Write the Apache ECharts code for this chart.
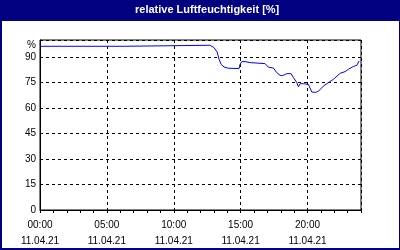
<!DOCTYPE html>
<html>
<head>
<meta charset="utf-8">
<script src="https://cdn.jsdelivr.net/npm/echarts@6/dist/echarts.min.js"></script>
<style>
  html, body { margin: 0; padding: 0; background: #fff; }
  #chart { width: 400px; height: 250px; }
</style>
</head>
<body>
<div id="chart"></div>
<script>
// Stunden seit 00:00 und relative Feuchte in %
const hours = [0, 6.2, 6.25, 12.7, 13.0, 13.24, 13.39, 13.54, 13.76, 14.08, 14.88, 14.96, 15.09, 15.33, 15.71,
  16.83, 17.08, 17.45, 17.7, 17.95, 18.12, 18.45, 18.77, 18.95, 19.2, 19.32, 19.45, 19.69, 20.07, 20.32,
  20.62, 20.82, 21.19, 21.56, 21.94, 22.44, 22.81, 23.06, 23.43, 23.69, 23.86];
const humidity = [96.3, 96.3, 96.9, 96.9, 95.6, 93.0, 88.7, 85.7, 84.1, 83.4, 83.2, 85.7, 87.3, 87.3, 86.7,
  86.1, 84.0, 83.5, 80.8, 79.2, 79.0, 80.2, 80.2, 77.9, 74.9, 72.5, 74.3, 74.3, 73.9, 69.4,
  69.2, 69.9, 72.9, 74.9, 76.9, 80.4, 81.4, 82.8, 84.4, 85.1, 87.7];
const dateLabel = "11.04.21";
const yTicks = [0, 15, 30, 45, 60, 75, 90];

const font = "Liberation Sans";
const navy = "#000080";

const chart = echarts.init(document.getElementById("chart"));
const pad = (n) => (n < 10 ? "0" + n : "" + n);

chart.setOption({
  animation: false,
  backgroundColor: "#fff",
  textStyle: { fontFamily: font },
  graphic: [
    // Titelleiste und Rahmen
    { type: "rect", left: 0, top: 0, shape: { width: 400, height: 21 }, style: { fill: navy } },
    { type: "rect", left: 0, top: 0, shape: { width: 2, height: 250 }, style: { fill: navy } },
    { type: "rect", left: 399, top: 0, shape: { width: 1, height: 250 }, style: { fill: navy } },
    { type: "rect", left: 0, top: 248, shape: { width: 400, height: 2 }, style: { fill: navy } },
    { type: "text", left: 135, top: 4,
      style: { text: "relative Luftfeuchtigkeit [%]", fill: "#fff", font: "bold 11px " + font } },
    { type: "text", right: 364, top: 40,
      style: { text: "%", fill: "#000", font: "10px " + font } }
  ],
  grid: { left: 40, top: 40, right: 39, bottom: 40, show: true, borderColor: "#000", borderWidth: 1 },
  xAxis: [
    {
      type: "value", position: "bottom", min: 0, max: 24, interval: 5,
      axisLine: { lineStyle: { color: "#000" } },
      axisTick: { show: false },
      axisLabel: {
        color: "#000", fontSize: 10, lineHeight: 16, margin: 7, showMaxLabel: false,
        formatter: (v) => (v === 24 ? "" : pad(v) + ":00\n" + dateLabel)
      },
      splitLine: { show: true, lineStyle: { color: "#000", type: [3, 3] } }
    },
    {
      type: "value", position: "bottom", min: 0, max: 24, interval: 1,
      axisLine: { show: false },
      axisTick: { show: true, length: 3, lineStyle: { color: "#000" } },
      axisLabel: { show: false },
      splitLine: { show: false }
    }
  ],
  yAxis: {
    type: "value", min: 0, max: 100, interval: 15,
    axisLine: { show: true, lineStyle: { color: "#000" } },
    axisTick: { show: false },
    axisLabel: {
      color: "#000", fontSize: 10, margin: 4,
      formatter: (v) => (yTicks.indexOf(v) >= 0 ? "" + v : "")
    },
    splitLine: { show: true, lineStyle: { color: "#000", type: [3, 3] } }
  },
  series: [{
    type: "line",
    data: hours.map((h, i) => [h, humidity[i]]),
    showSymbol: false,
    lineStyle: { color: "#0000ff", width: 1 }
  }]
});
</script>
</body>
</html>
